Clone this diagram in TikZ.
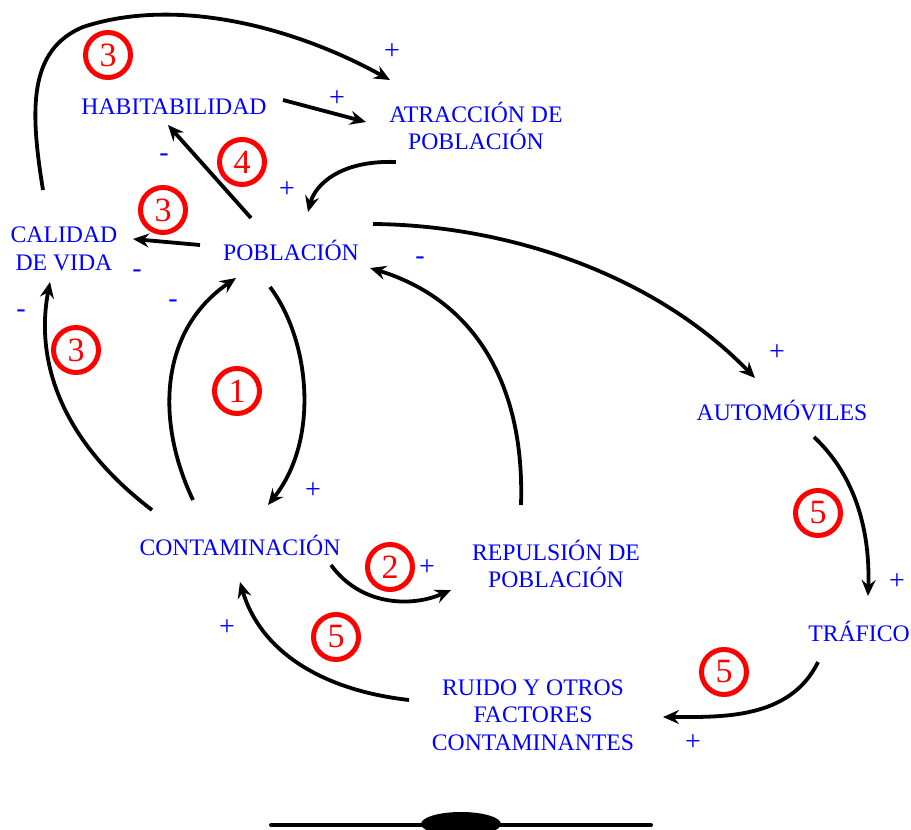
\documentclass[tikz,border=0pt]{standalone}
\usepackage{fontspec}
\setmainfont{Liberation Serif}
\usetikzlibrary{arrows.meta}
\begin{document}
\begin{tikzpicture}[x=1pt,y=-1pt,
  lbl/.style={text=blue, font=\fontsize{23.7}{27.7}\selectfont, align=center, inner sep=0pt},
  sgn/.style={text=blue, font=\fontsize{28}{28}\selectfont, inner sep=0pt},
  loopc/.style={circle, draw=red, line width=5pt, minimum size=45pt, inner sep=0pt, text=red, font=\fontsize{34}{34}\selectfont},
  conn/.style={draw=black, line width=3.8pt, -{Stealth[length=16pt,width=14pt,inset=5.5pt]}}]
\fill[white] (0,0) rectangle (911,830);
\useasboundingbox (0,0) rectangle (911,830);

% variables
\node[lbl] (cal) at (64,249) {CALIDAD\\DE VIDA};
\node[lbl] (hab) at (174,107) {HABITABILIDAD};
\node[lbl] (atr) at (476,126) {ATRACCIÓN DE\\POBLACIÓN};
\node[lbl] (pob) at (291,250) {POBLACIÓN};
\node[lbl] (aut) at (782,411) {AUTOMÓVILES};
\node[lbl] (con) at (240,545) {CONTAMINACIÓN};
\node[lbl] (rep) at (556,564) {REPULSIÓN DE\\POBLACIÓN};
\node[lbl] (tra) at (859,631) {TRÁFICO};
\node[lbl] (rui) at (533,715) {RUIDO Y OTROS\\FACTORES\\CONTAMINANTES};

% loop markers
\node[loopc] (l3a) at (108,55) {3};
\node[loopc] (l4) at (242,162) {4};
\node[loopc] (l3b) at (163,210) {3};
\node[loopc] (l3c) at (76,350) {3};
\node[loopc] (l1) at (237,391) {1};
\node[loopc] (l2) at (390,567) {2};
\node[loopc] (l5a) at (818,513) {5};
\node[loopc] (l5b) at (336,637) {5};
\node[loopc] (l5c) at (724,672) {5};

% polarity signs
\node[sgn] (s1) at (392,52) {+};
\node[sgn] (s2) at (337,99) {+};
\node[sgn] (s3) at (164,158) {-};
\node[sgn] (s4) at (287,190) {+};
\node[sgn] (s5) at (137,274) {-};
\node[sgn] (s6) at (420,261) {-};
\node[sgn] (s7) at (21,314) {-};
\node[sgn] (s8) at (173,304) {-};
\node[sgn] (s9) at (313,491) {+};
\node[sgn] (s10) at (427,568) {+};
\node[sgn] (s11) at (777,353) {+};
\node[sgn] (s12) at (897,582) {+};
\node[sgn] (s13) at (227,628) {+};
\node[sgn] (s14) at (693,743) {+};

% connectors
\draw[conn] ([shift={(-21,-59)}]cal.center) .. controls (30,110) and (28,50) .. ([shift={(-91,-80)}]hab.center)
   .. controls (180,-5) and (300,30) .. ([shift={(-86,-46)}]atr.center);
\draw[conn] ([shift={(109,-7)}]hab.center) -- ([shift={(-110,-4)}]atr.center);
\draw[conn] ([shift={(-40,-32)}]pob.center) -- ([shift={(-6,18)}]hab.center);
\draw[conn] ([shift={(-80,36)}]atr.center) .. controls (340,160) and (315,185) .. ([shift={(17,-38)}]pob.center);
\draw[conn] ([shift={(-91,-5)}]pob.center) -- ([shift={(69,-10)}]cal.center);
\draw[conn] ([shift={(-88,-35)}]con.center) .. controls (60,440) and (35,360) .. ([shift={(-14,33)}]cal.center);
\draw[conn] ([shift={(-47,-45)}]con.center) .. controls (155,420) and (160,330) .. ([shift={(-55,28)}]pob.center);
\draw[conn] ([shift={(-21,37)}]pob.center) .. controls (310,340) and (320,440) .. ([shift={(28,-40)}]con.center);
\draw[conn] ([shift={(82,-26)}]pob.center) .. controls (500,225) and (650,270) .. ([shift={(-27,-33)}]aut.center);
\draw[conn] ([shift={(-35,-59)}]rep.center) .. controls (525,385) and (475,300) .. ([shift={(79,18)}]pob.center);
\draw[conn] ([shift={(91,20)}]con.center) .. controls (360,605) and (410,608) .. ([shift={(-105,26)}]rep.center);
\draw[conn] ([shift={(32,26)}]aut.center) .. controls (860,480) and (870,540) .. ([shift={(9,-35)}]tra.center);
\draw[conn] ([shift={(-41,31)}]tra.center) .. controls (790,720) and (720,717) .. ([shift={(130,2)}]rui.center);
\draw[conn] ([shift={(-124,-15)}]rui.center) .. controls (320,690) and (260,650) .. ([shift={(0,37)}]con.center);

% bottom ornament
\draw[line width=4pt, line cap=round] (271,825) -- (651,825);
\fill (461,824) ellipse [x radius=40pt, y radius=12pt];
\end{tikzpicture}
\end{document}
